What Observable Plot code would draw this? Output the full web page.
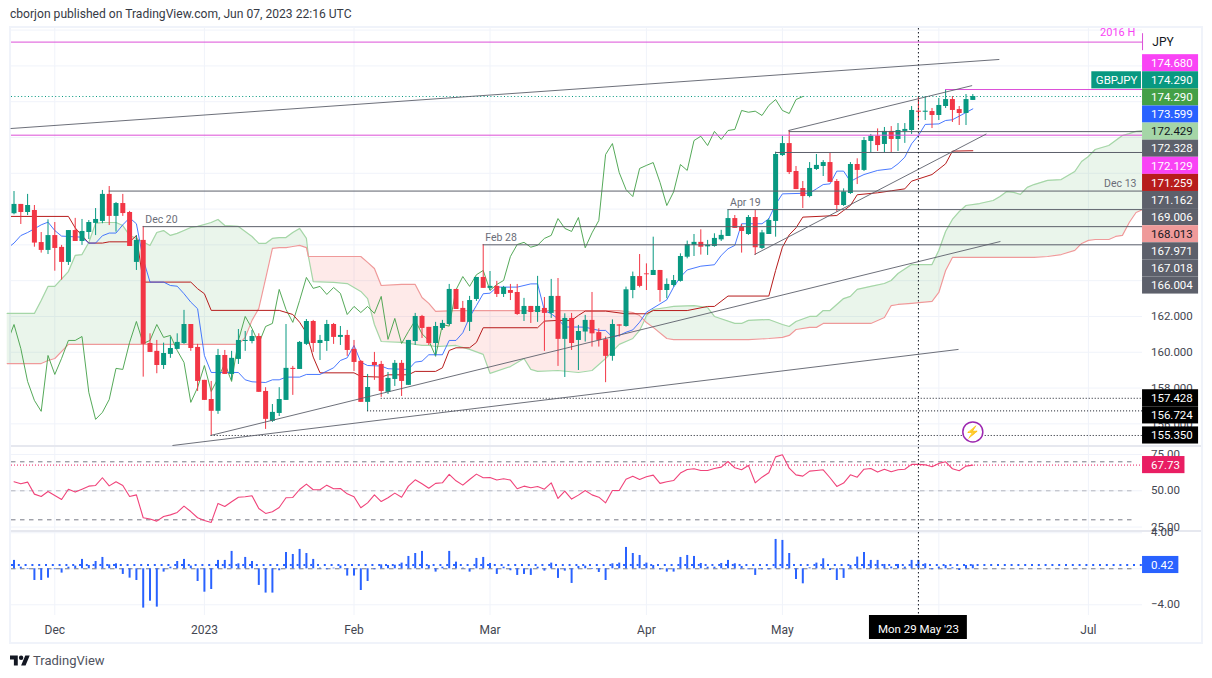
<!DOCTYPE html>
<html><head><meta charset="utf-8">
<script src="https://cdn.jsdelivr.net/npm/d3@7"></script>
<script src="https://cdn.jsdelivr.net/npm/@observablehq/plot@0.6"></script>
<style>
html,body{margin:0;padding:0;background:#fff;width:1212px;height:678px;overflow:hidden;font-family:Roboto,sans-serif}
.abs{position:absolute}
svg{display:block}
</style></head><body>
<div class="abs" id="title" style="left:10px;top:7px;font-size:12.1px;color:#363a45;white-space:nowrap">cborjon published on TradingView.com, Jun 07, 2023 22:16 UTC</div>
<div class="abs" style="left:9px;top:26px;width:1194px;height:618px;border:2px solid #f0f3fa;box-sizing:border-box"></div>
<div class="abs" id="main" style="left:11px;top:28px;z-index:2"></div>
<div class="abs" style="left:11px;top:445px;width:1190px;height:2px;background:#e6e8ef"></div>
<div class="abs" id="rsi" style="left:11px;top:447px;z-index:2"></div>
<div class="abs" style="left:11px;top:530px;width:1190px;height:2px;background:#e6e8ef"></div>
<div class="abs" id="hist" style="left:11px;top:532px;z-index:2"></div>
<div class="abs" id="axis" style="left:11px;top:615px;z-index:2"></div>
<svg class="abs" style="left:10px;top:655px" width="20" height="11" viewBox="0 4 36 18"><path d="M14 22H7V11H0V4h14v18zM28 22h-8l7.5-18h8L28 22z" fill="#131722"/><circle cx="20" cy="8" r="4" fill="#131722"/></svg>
<div class="abs" style="left:33px;top:653px;font-size:13px;color:#50535e;white-space:nowrap">TradingView</div>
<script>
// ---- candles (bar 0 = 23 Nov 2022, one bar per trading day)
const opens=[167.74,168.26,167.81,167.92,166.13,165.69,166.52,165.86,165.02,166.80,
166.19,166.69,167.20,167.31,168.82,167.59,168.31,167.81,165.02,166.25,
160.49,160.05,159.26,159.88,160.16,160.49,161.55,160.27,158.43,157.36,
156.70,159.82,158.76,159.60,160.60,160.60,160.88,157.81,156.14,156.58,
157.31,159.10,159.04,160.44,161.72,160.49,160.60,161.55,160.83,160.94,
160.16,159.49,157.20,159.43,159.32,157.76,158.48,159.38,158.15,160.60,
162.00,161.39,160.49,161.33,161.55,163.51,162.45,161.67,162.95,164.18,
163.57,163.68,163.23,163.45,163.34,162.11,162.56,162.22,162.45,162.17,
163.12,160.72,161.89,160.66,161.13,161.78,161.10,160.70,159.77,161.53,
161.44,163.45,164.23,164.38,164.29,164.57,163.45,163.73,163.96,165.31,
165.97,166.14,165.89,165.91,166.28,166.47,167.47,166.99,166.58,167.53,
165.80,166.58,167.31,170.99,171.66,170.10,169.15,168.70,170.21,170.38,
170.60,169.54,168.20,168.87,170.49,170.16,171.78,172.07,171.61,172.34,
171.89,172.34,172.39,173.47,173.41,173.45,173.23,173.73,174.12,173.56,
173.34,174.07];
const closes=[168.26,167.81,168.20,166.10,165.69,166.52,165.80,165.02,166.80,166.19,
166.75,167.25,167.42,168.82,167.59,168.31,167.75,165.91,166.25,160.44,
159.99,159.26,159.93,160.21,160.55,161.55,160.21,158.37,157.31,156.70,
159.82,158.76,159.66,160.66,160.66,160.88,157.76,156.25,156.64,157.36,
159.10,159.04,160.55,161.72,160.49,160.66,161.55,160.83,160.94,160.10,
159.43,157.20,158.03,159.26,157.81,158.54,159.38,158.37,160.66,162.00,
161.33,160.49,161.44,161.61,163.51,162.39,161.67,162.89,164.18,163.57,
163.68,163.23,163.62,163.29,162.11,162.56,162.22,162.56,162.17,163.12,
160.72,161.89,160.49,161.16,161.78,161.03,160.66,159.77,161.55,161.46,
163.49,164.23,163.68,164.33,164.57,163.45,163.79,164.01,165.35,166.02,
166.14,165.87,165.98,166.36,166.53,167.47,166.92,166.75,167.53,165.84,
166.67,167.36,171.05,171.66,170.04,169.09,168.70,170.27,170.44,170.60,
169.49,168.20,168.96,170.49,170.16,171.83,172.07,171.55,172.34,171.89,
172.39,172.45,173.51,173.41,173.47,173.23,173.79,174.12,173.51,173.34,
174.12,174.29];
const highs=[168.98,168.26,168.82,168.20,166.69,167.40,167.25,165.97,166.80,167.48,
167.42,167.36,168.03,169.04,169.26,168.37,168.82,167.87,166.52,167.03,
161.03,160.66,160.51,160.85,161.03,162.34,161.55,160.44,158.43,158.37,
160.16,160.10,160.05,161.27,161.16,161.22,161.03,158.02,157.08,158.02,
161.55,159.21,160.60,161.83,161.78,160.94,161.78,161.61,161.44,161.22,
160.66,159.54,158.76,159.99,159.49,158.87,159.54,159.54,160.66,162.17,
162.06,161.39,161.67,161.78,163.79,163.51,162.84,163.12,164.18,166.02,
164.51,163.96,163.68,163.79,163.79,163.01,162.56,164.24,163.06,164.07,
164.12,162.15,162.17,161.50,162.06,163.34,161.31,160.85,161.81,161.53,
163.64,164.48,165.46,164.94,166.43,164.57,164.10,164.29,165.50,166.21,
166.58,166.84,166.25,166.62,166.81,167.96,167.64,167.14,167.64,167.92,
166.81,167.46,171.18,172.06,172.39,170.38,169.54,170.60,171.05,170.71,
171.14,169.65,169.13,170.60,170.81,172.00,172.17,172.48,172.56,172.61,
172.78,172.78,173.73,174.23,174.29,173.62,174.18,174.68,174.29,173.73,
174.40,174.40];
const lows=[167.68,167.14,167.64,165.87,165.54,165.46,164.53,164.03,164.85,166.19,
165.97,166.30,166.52,167.18,167.08,166.71,167.59,165.91,164.57,158.61,
159.99,158.80,159.04,159.66,160.16,160.44,160.05,157.81,157.31,155.35,
156.53,158.76,158.43,159.32,160.05,160.47,157.76,155.69,156.08,156.41,
157.31,157.59,159.04,160.38,159.99,159.54,160.05,160.44,160.38,159.77,
158.93,157.20,156.70,158.43,157.48,157.64,158.09,157.53,158.15,160.38,
160.77,160.38,159.82,161.22,161.50,162.39,161.67,161.16,162.84,163.57,
163.45,163.06,163.06,162.89,162.06,161.72,161.61,161.67,160.05,161.89,
159.21,158.59,160.10,158.98,160.57,160.29,160.29,158.30,159.50,160.85,
161.40,162.99,163.60,163.45,164.29,162.80,162.99,163.64,163.92,165.22,
165.35,165.43,165.41,165.87,166.19,166.47,166.92,165.54,166.53,165.41,
165.74,166.58,166.43,170.94,169.93,169.09,168.03,168.63,170.16,169.82,
169.49,167.83,168.15,168.82,169.37,170.10,171.13,171.22,171.16,171.16,
171.22,171.67,172.17,172.95,172.95,172.50,172.95,173.62,172.84,172.67,
172.67,174.07];
// ---- Ichimoku conversion line
const tenkanBars=[-1,0,1,2,3,4,5,6,7,8,10,11,12,13,14,15,16,17,18,19,20,22,23,24,25,26,27,28,29,33,34,35,37,38,39,40,42,43,45,47,48,49,50,51,52,54,55,58,59,60,61,63,64,65,66,67,68,69,70,71,74,76,77,78,79,80,81,83,84,86,87,88,89,90,91,92,93,96,97,98,99,101,103,104,105,106,107,110,111,112,113,117,118,119,120,121,122,123,124,125,127,129,130,131,132,133,134,136,137,138,141];
const tenkanVals=[165.8,166.1,166.52,166.69,166.9,167.12,167.27,166.8,166.49,166.47,166.43,166.1,166.1,166.51,166.66,166.66,167.12,167.51,167.18,165.2,163.92,163.92,163.73,163.69,163.27,162.8,162.43,159.82,158.87,158.87,158.46,158.35,158.31,158.46,158.46,158.61,158.61,158.76,158.76,159.13,159.54,159.69,160.38,159.45,159.26,159.23,159.08,159.04,159.45,159.5,159.86,159.86,160.66,160.66,161.09,161.96,162.61,163.27,163.3,163.64,163.64,163.82,163.82,162.33,162.15,161.87,161.41,161.41,161.4,161.22,161.22,160.85,160.94,161.12,161.25,161.68,162.24,162.93,163.64,164.2,164.6,164.81,164.89,165.41,165.78,165.97,167.18,167.18,167.46,168.26,168.85,168.89,169.13,169.37,169.41,170.12,170.12,169.54,169.75,169.93,170.16,170.25,170.53,170.9,171.65,172.11,172.73,172.76,172.95,172.99,173.6];
// ---- Ichimoku base line
const kijunBars=[-1,8,9,10,11,13,14,17,18,19,26,27,28,29,39,41,42,43,44,45,50,51,54,55,58,59,62,63,64,65,67,68,69,77,78,80,82,83,84,87,90,93,94,99,102,103,105,111,112,113,114,115,116,121,122,123,124,127,129,131,132,135,137,138,141];
const kijunVals=[167.59,167.59,166.95,166.52,166.1,166.1,166.17,166.17,166.52,163.92,163.92,163.55,163.27,162.34,162.34,162.11,161.68,161.09,159.73,158.85,158.85,158.65,158.61,158.74,158.74,158.93,158.93,159.13,160.1,160.25,160.25,160.55,161.37,161.37,161.74,161.78,161.78,162.06,162.3,162.3,162.15,162.15,162.33,162.33,162.56,162.56,163.14,163.14,164.57,165.87,166.56,166.95,167.55,167.64,167.92,168.2,168.8,168.91,169.02,169.13,169.56,169.93,170.53,171.24,171.26];
// ---- Ichimoku cloud
const cloudBars=[-1,3,4,5,6,8,9,10,11,12,13,15,16,17,18,20,21,22,23,24,25,26,27,28,29,30,31,33,34,35,36,37,38,39,40,41,42,43,43.3,44,47,49,51,52,53,54,57,59,60,61,62,65,67,69,70,73,75,76,77,80,83,85,87,89,91,92,92.7,93,94,96,97,100,102,103,106,107,108,111,113,114,115,117,118,119,120,122,123,124,126,128,129,130,132,135,136,137,138,139,140,142,144,145,146,147,148,149,150,152,154,156,157,158,159,160,161,162,163,164,165,166];
const spanA=[162.17,162.17,162.89,163.68,163.68,164.51,165.41,165.46,166.13,167.20,167.25,167.25,167.08,166.53,166.36,165.97,166.69,166.80,166.53,166.64,166.80,166.97,167.03,167.14,167.25,167.42,167.08,167.03,166.75,166.47,166.08,166.08,166.36,166.41,166.41,166.69,166.92,166.36,165.35,163.95,163.90,163.84,163.40,163.00,161.55,160.60,160.55,160.44,160.38,160.38,160.32,160.38,160.16,159.88,158.82,159.20,159.65,159.04,158.93,158.98,158.87,158.98,159.65,160.44,160.77,161.22,161.78,162.05,162.39,162.50,162.56,162.61,162.50,162.00,161.61,161.61,161.78,161.83,161.55,161.44,161.72,162.00,162.00,162.33,162.33,163.00,163.12,163.51,163.68,163.84,164.01,164.40,164.90,164.90,165.69,166.75,167.42,167.86,168.20,168.31,168.48,168.70,168.98,168.93,168.82,169.21,169.37,169.60,169.65,170.10,170.66,170.94,171.33,171.44,171.55,171.83,172.11,172.22,172.34,172.39];
const spanB=[159.37,159.37,159.37,159.54,159.65,160.44,160.44,160.44,160.44,160.44,160.44,160.44,160.44,160.44,160.44,160.44,160.44,160.44,160.44,160.44,160.44,160.44,160.44,160.44,160.44,160.44,160.44,160.44,160.83,161.78,162.45,164.12,165.80,165.85,165.85,165.91,165.97,165.85,165.35,165.35,165.35,165.35,165.35,165.02,164.68,163.73,163.79,163.79,163.06,162.73,162.28,162.33,162.33,162.33,162.33,162.33,162.33,162.33,162.33,162.33,162.33,162.33,162.33,162.33,162.22,162.05,161.78,161.66,161.39,160.77,160.71,160.71,160.71,160.71,160.71,160.71,160.71,160.77,160.83,160.94,161.27,161.39,161.39,161.61,161.61,161.61,161.61,161.61,161.61,161.94,162.61,162.67,162.73,162.84,163.34,164.57,165.30,165.30,165.30,165.30,165.30,165.30,165.30,165.30,165.30,165.30,165.30,165.35,165.46,165.69,166.08,166.25,166.30,166.30,166.30,166.47,166.53,167.25,167.81,167.98];
const laggingShift=25;
// ---- drawings
const trendX1=[-0.5,23.3,28.9,108.9,113.9];
const trendY1=[172.50,154.79,155.35,165.46,172.39];
const trendX2=[144.9,138.9,145.06,143,140.9];
const trendY2=[176.36,160.16,166.19,172.2,174.9];
const levelVals=[172.328,171.162,169.006,167.971,167.018,166.004];
const levelBars=[114,112,14,105,19,69];
const pinkVals=[177.33,174.68,172.129];
const pinkBars=[-1,137,-1];
const dotVals=[157.428,156.724,155.35];
const dotBars=[54,52,29];
const lastPrice=174.29;
const cursorBar=133;
const noteTexts=["Dec 20","Feb 28","Apr 19"];
const noteBars=[19.3,69.3,105.3];
const notePrices=[167.43,166.43,168.38];
const gridPrices=[178,176,174,172,170,168,166,164,162,160,158,156];
const priceTicks=[162,160,158,156];
// ---- price tags
const tagVals=[174.68,174.29,174.29,173.599,172.429,172.328,172.129,171.259,171.162,169.006,168.013,167.971,167.018,166.004];
const tagFills=["#f943f5","#089981","#43a047","#2962ff","#a5d6a7","#5d606b","#f943f5","#b71c1c","#5d606b","#5d606b","#ef9a9a","#5d606b","#5d606b","#5d606b"];
const tagInks=["#fff","#fff","#fff","#fff","#131722","#fff","#fff","#fff","#fff","#fff","#131722","#fff","#fff","#fff"];
// ---- RSI
const rsi=[56.2,54.8,56,47.7,46.1,49.5,46.8,44,51.1,49.1,51.1,53.2,53.7,59,53.4,56.2,53.7,46.1,47.2,31.4,
30.5,29.1,32.3,33.4,35.1,39.4,35.7,31.4,29.5,28.2,41.3,39.2,42.4,45.6,45.9,46.6,37.8,34.4,35.5,38.5,
45.2,45.4,50.9,54.6,50.7,50.7,53.9,51.4,51.6,47.9,45.9,38.3,41.7,47.2,42.6,45.2,48.4,45.6,
53.2,57.6,54.8,51.8,55.1,55.5,61.3,56.9,53.9,57.8,61.5,59,59.2,57.4,58.3,57.4,51.4,53.2,52.1,53,51.1,55.5,
44.7,49.8,44.3,47,50.2,47.2,45.6,41.7,50.2,50.2,58,60.1,57.8,59.7,60.8,55.1,56.2,57.1,62.2,64.7,65.2,64,64,
65.4,66.3,70.2,65.9,64.5,67.5,55.5,59.4,62.4,73.4,74.8,65.6,61,
60.1,63.6,64,64.5,59,53,55.3,61,59.4,64.9,65.4,62.9,64.9,63.1,64.5,64.9,68.2,68.2,67.9,66.6,68.9,70,65.2,63.8,67,67.73];
const rsiBands=[70,50,30];
const rsiTicks=[75,50,25];
// ---- momentum histogram
const momentum=[0.93,0.18,-0.07,-1.3,-1.3,-1.04,-0.1,-0.48,0.18,0.3,1.04,0.37,0.81,1.26,0.44,0.55,-0.63,-1.04,-1.3,-4.37,
-3.6,-4.26,-0.37,0.18,0.81,1.04,0.3,-1.41,-2.6,-2.3,0.93,0.93,1.93,0.55,1.26,0.81,-1.85,-2.7,-2.7,-0.22,
1.81,1.59,2.15,1.7,1.04,0.07,-0.11,0.07,0.3,-0.81,-0.81,-2.41,-1.41,-0.11,0.44,0.37,0.4,0.63,
1.37,1.7,1.93,0.37,-0.37,0.18,1.93,0.74,0.07,-0.37,1.15,1.26,0.59,-0.63,0.18,-0.22,-0.74,-0.63,-0.74,0.18,-0.26,0.63,
-1.07,-0.26,-1.63,0.26,0.3,-0.07,-0.41,-1.3,0.55,0.63,2.37,1.7,1.48,0.63,0.37,-0.11,-0.37,-0.37,1.26,1.48,1.37,0.59,0.18,
0.18,0.59,0.93,0.55,0.26,-0.11,-0.74,-0.11,-0.11,3.26,3.15,1.7,-1.19,
-1.67,0.1,0.63,1.11,-0.19,-1.3,-1.07,0.37,1.3,1.81,0.93,0.93,0.48,0.19,0.48,0.19,0.93,0.93,0.55,-0.11,0.19,0.37,0.11,-0.19,0.37,0.42];
const histTicks=[4,0,-4];
// ---- time axis
const gridBars=[6,28,50,70,93,113,136,158];
const monthBars=[6,28,50,70,93,113,158];
const monthLabels=["Dec","2023","Feb","Mar","Apr","May","Jul"];

const bars=d3.range(closes.length);
const UP="#089981",DOWN="#f23645",GREY="#5d606b",GRID="#f0f3fa",INK="#434651";
const WIDTH=1190;
const xDomain=[-0.368,174.63];   // bars visible across the frame
const paneEnd=165.96;            // where the price axis starts
const tagEnd=174.2;
const labelAt=167.2;
const base={width:WIDTH,marginTop:0,marginRight:0,marginBottom:0,marginLeft:0,
  x:{domain:xDomain,axis:null},color:{type:"identity"},
  style:{background:"transparent",overflow:"visible",fontFamily:"Roboto, sans-serif",fontSize:"11.5px"}};
const vGrid=Plot.ruleX(gridBars,{x:d=>d,stroke:GRID});
const hGrid=t=>Plot.ruleY(t,{y:d=>d,x1:xDomain[0],x2:paneEnd,stroke:GRID});
const cursor=Plot.ruleX([cursorBar],{x:d=>d,stroke:"#131722",strokeDasharray:"1.5,2.5"});

// price tags: stacked from the top, each a fixed price step below the last
const priceTop=178.09,priceBottom=154.79,mainH=417;
const tagStep=17.1*(priceTop-priceBottom)/mainH;
const tagStart=176.15;
const tagCentre=tagVals.map((_,k)=>tagStart-k*tagStep);
const tagRect=(centres,fills,x2=tagEnd)=>Plot.rect(centres,{x1:paneEnd,x2,y1:d=>d-tagStep/2,y2:d=>d+tagStep/2,fill:fills});
const tagText=(centres,texts,inks)=>Plot.text(centres,{x:labelAt,y:d=>d,text:texts,fill:inks,textAnchor:"start"});

// black tags: true value unless it would touch the tag above
const dotCentre=[];
dotVals.forEach((v,k)=>dotCentre.push(k?Math.min(v,dotCentre[k-1]-tagStep):v));

const cloudRows=cloudBars.map((b,k)=>({b,a:spanA[k],c:spanB[k]}));
const greenL=cloudRows.filter(d=>d.b<=43.3),red=cloudRows.filter(d=>d.b>=43.3&&d.b<=92.7),greenR=cloudRows.filter(d=>d.b>=92.7);
const lagging=bars.filter(i=>i>=laggingShift-1);

document.getElementById("main").append(Plot.plot({...base,height:mainH,
  y:{domain:[priceBottom,priceTop],axis:null},
  marks:[
    vGrid,hGrid(gridPrices),
    ...[greenL,greenR].map(s=>Plot.areaY(s,{x:"b",y1:"a",y2:"c",fill:"#43a047",fillOpacity:0.11})),
    Plot.areaY(red,{x:"b",y1:"a",y2:"c",fill:"#f44336",fillOpacity:0.11}),
    Plot.line(cloudRows,{x:"b",y:"a",stroke:"#a5d6a7",strokeWidth:1.2}),
    Plot.line(cloudRows,{x:"b",y:"c",stroke:"#ef9a9a",strokeWidth:1.2}),
    Plot.line(lagging,{x:i=>i-laggingShift,y:i=>closes[i],stroke:"#43a047",strokeWidth:1,clip:true,strokeOpacity:0.9}),
    Plot.line(kijunVals,{x:kijunBars,y:kijunVals,stroke:"#b71c1c",strokeWidth:1,clip:true}),
    Plot.line(tenkanVals,{x:tenkanBars,y:tenkanVals,stroke:"#2962ff",strokeWidth:1,clip:true,strokeOpacity:0.85}),
    Plot.ruleX(bars,{x:i=>i,y1:i=>lows[i],y2:i=>highs[i],stroke:i=>closes[i]>=opens[i]?UP:DOWN,strokeWidth:1}),
    Plot.ruleX(bars,{x:i=>i,y1:i=>opens[i],y2:i=>closes[i],stroke:i=>closes[i]>=opens[i]?UP:DOWN,strokeWidth:5}),
    Plot.ruleY([lastPrice],{y:d=>d,x1:xDomain[0],x2:paneEnd,stroke:UP,strokeDasharray:"1,2.4"}),
    Plot.ruleY(pinkVals,{y:d=>d,x1:(d,k)=>pinkBars[k]<0?xDomain[0]:pinkBars[k],x2:paneEnd,stroke:"#dc4fd8",strokeWidth:1}),
    Plot.ruleY(levelVals,{y:d=>d,x1:(d,k)=>levelBars[k],x2:paneEnd,stroke:GREY,strokeWidth:1}),
    Plot.ruleY(dotVals,{y:d=>d,x1:(d,k)=>dotBars[k],x2:paneEnd,stroke:"#131722",strokeDasharray:"1,2"}),
    Plot.link(trendX1,{x1:(d,k)=>trendX1[k],y1:(d,k)=>trendY1[k],x2:(d,k)=>trendX2[k],y2:(d,k)=>trendY2[k],stroke:"#5d606b",strokeWidth:1,strokeOpacity:0.9}),
    cursor,
    Plot.text(noteTexts,{x:noteBars,y:notePrices,text:d=>d,fill:"#6a6d78",textAnchor:"start",fontSize:10.5}),
    Plot.text(["Dec 13"],{x:165.07,y:169.45,text:d=>d,fill:"#6a6d78",textAnchor:"end",fontSize:10.5}),
    Plot.text(["2016 H"],{x:164.9,y:177.87,text:d=>d,fill:"#f943f5",textAnchor:"end",fontSize:11}),
    Plot.ruleX([paneEnd],{x:d=>d,y1:177.8,y2:176.85,stroke:"#dc4fd8"}),
    Plot.text(["JPY"],{x:167.4,y:177.33,text:d=>d,fill:"#131722",textAnchor:"start",fontSize:12}),
    Plot.text(priceTicks,{x:labelAt,y:d=>d,text:d=>d.toFixed(3),fill:INK,textAnchor:"start"}),
    tagRect(tagCentre,tagFills),
    tagText(tagCentre,tagVals.map(v=>v.toFixed(3)),tagInks),
    Plot.rect(["GBPJPY"],{x1:158.5,x2:165.8,y1:tagCentre[1]-tagStep/2,y2:tagCentre[1]+tagStep/2,fill:UP}),
    Plot.text(["GBPJPY"],{x:162.15,y:tagCentre[1],text:d=>d,fill:"#fff"}),
    tagRect(dotCentre,dotVals.map(()=>"#000")),
    tagText(dotCentre,dotVals.map(v=>v.toFixed(3)),dotVals.map(()=>"#fff")),
    Plot.dot([141],{x:d=>d,y:155.55,r:10,fill:"#fff",stroke:"#9c27b0",strokeWidth:1.5}),
    Plot.text(["\u26A1"],{x:141,y:155.55,text:d=>d,fill:"#9c27b0",fontSize:12})
  ]}));

const rsiLast=rsi[rsi.length-1];
document.getElementById("rsi").append(Plot.plot({...base,height:83,
  y:{domain:[22.62,79.86],axis:null},
  marks:[
    vGrid,hGrid(rsiTicks),
    Plot.ruleY(rsiBands,{y:d=>d,x1:xDomain[0],x2:paneEnd-0.9,stroke:d=>d===50?"#b2b5be":"#787b86",strokeDasharray:"4.5,4.5"}),
    Plot.ruleY([rsiLast],{y:d=>d,x1:xDomain[0],x2:paneEnd,stroke:"#e91e63",strokeDasharray:"1,2"}),
    Plot.line(rsi,{x:bars,y:rsi,stroke:"#f0437a",strokeWidth:1.1}),
    cursor,
    Plot.text(rsiTicks,{x:labelAt,y:d=>d,text:d=>d.toFixed(2),fill:INK,textAnchor:"start"}),
    Plot.rect([rsiLast],{x1:paneEnd,x2:172.2,y1:d=>d-5.9,y2:d=>d+5.9,fill:"#e91e63"}),
    Plot.text([rsiLast],{x:labelAt,y:d=>d,text:d=>d.toFixed(2),fill:"#fff",textAnchor:"start"})
  ]}));

const momLast=momentum[momentum.length-1];
document.getElementById("hist").append(Plot.plot({...base,height:83,
  y:{domain:[-5.19,4.03],axis:null},
  marks:[
    vGrid,hGrid(histTicks),
    Plot.ruleY([0],{y:d=>d,x1:xDomain[0],x2:paneEnd-0.9,stroke:"#787b86",strokeDasharray:"4.5,4.5"}),
    Plot.ruleX(bars,{x:i=>i,y1:0,y2:i=>momentum[i],stroke:"#2962ff",strokeWidth:2}),
    Plot.ruleY([momLast],{y:d=>d,x1:xDomain[0],x2:paneEnd,stroke:"#2962ff",strokeWidth:2,strokeDasharray:"2,4.8"}),
    cursor,
    Plot.text(histTicks.filter(d=>d),{x:labelAt,y:d=>d,text:d=>(d<0?"\u2212":"")+Math.abs(d).toFixed(2),fill:INK,textAnchor:"start"}),
    Plot.rect([momLast],{x1:paneEnd,x2:171.3,y1:d=>d-0.95,y2:d=>d+0.95,fill:"#2962ff"}),
    Plot.text([momLast],{x:labelAt,y:d=>d,text:d=>d.toFixed(2),fill:"#fff",textAnchor:"start"})
  ]}));

document.getElementById("axis").append(Plot.plot({...base,height:27,
  marks:[
    Plot.text(monthLabels.map((t,k)=>k),{x:k=>monthBars[k],text:k=>monthLabels[k],frameAnchor:"middle",dy:1,fill:"#434651",fontSize:12,fontWeight:k=>monthLabels[k]==="2023"?"bold":"normal"}),
    Plot.rect([cursorBar],{x1:d=>d-7.2,x2:d=>d+7.2,fill:"#000",insetBottom:3}),
    Plot.text(["Mon 29 May '23"],{x:cursorBar,text:d=>d,frameAnchor:"middle",dy:0,fill:"#fff",fontSize:11.5})
  ]}));
</script>
</body></html>
